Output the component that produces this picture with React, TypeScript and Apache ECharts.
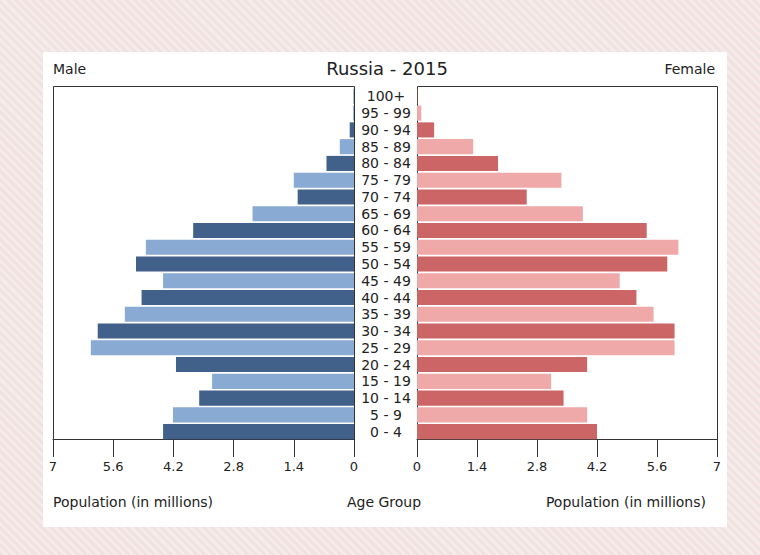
import React, { useEffect, useRef } from "react";
import * as echarts from "echarts";

// Age groups from youngest (bottom) to oldest (top)
const ageGroups = [
  "0 - 4", "5 - 9", "10 - 14", "15 - 19", "20 - 24", "25 - 29", "30 - 34",
  "35 - 39", "40 - 44", "45 - 49", "50 - 54", "55 - 59", "60 - 64", "65 - 69",
  "70 - 74", "75 - 79", "80 - 84", "85 - 89", "90 - 94", "95 - 99", "100+",
];

// Population in millions
const male = [
  4.44, 4.21, 3.6, 3.3, 4.14, 6.12, 5.96, 5.33, 4.94, 4.44, 5.07, 4.84, 3.74,
  2.36, 1.31, 1.4, 0.64, 0.33, 0.1, 0.02, 0.01,
];
const female = [
  4.2, 3.97, 3.42, 3.13, 3.97, 6.01, 6.01, 5.52, 5.12, 4.73, 5.84, 6.1, 5.36,
  3.87, 2.56, 3.37, 1.89, 1.31, 0.4, 0.1, 0.01,
];

const xTicks = [0, 1.4, 2.8, 4.2, 5.6, 7];

const MALE_DARK = "#41618a";
const MALE_LIGHT = "#88aad3";
const FEMALE_DARK = "#cc6565";
const FEMALE_LIGHT = "#f0a9a9";

const FONT = "DejaVu Sans";

function fmt(v: number) {
  return String(parseFloat(v.toFixed(1)));
}

export default function App() {
  const ref = useRef<HTMLDivElement>(null);

  useEffect(() => {
    if (!ref.current) return;
    const chart = echarts.init(ref.current, undefined, { renderer: "svg" });

    const xAxisCommon = {
      type: "value" as const,
      min: 0,
      max: xTicks[xTicks.length - 1],
      interval: xTicks[1],
      offset: -1,
      axisLine: { show: true, lineStyle: { color: "#333", width: 1 } },
      axisTick: { show: true, length: 18, lineStyle: { color: "#333", width: 1 } },
      axisLabel: {
        margin: 21,
        color: "#222",
        fontFamily: FONT,
        fontSize: 13,
        formatter: (v: number) => fmt(v),
      },
      splitLine: { show: false },
    };

    const yAxisCommon = {
      type: "category" as const,
      data: ageGroups,
      axisLine: { show: false },
      axisTick: { show: false },
      splitLine: { show: false },
    };

    // Left, top and right sides of a plot box; the x axis closes the bottom
    const frame = (x: number, w: number) => ({
      type: "polyline",
      z: 0,
      shape: {
        points: [
          [x + 0.5, 439.5],
          [x + 0.5, 86.5],
          [x + w + 0.5, 86.5],
          [x + w + 0.5, 439.5],
        ],
      },
      style: { fill: "none", stroke: "#333", lineWidth: 1 },
    });

    const label = (text: string, x: number, y: number, align: string, size = 14) => ({
      type: "text",
      x,
      y,
      style: { text, fontFamily: FONT, fontSize: size, fill: "#222", align, verticalAlign: "middle" },
    });

    chart.setOption({
      animation: false,
      backgroundColor: "transparent",
      graphic: [
        {
          type: "rect",
          z: -10,
          shape: { x: 43, y: 52, width: 684, height: 475 },
          style: { fill: "#ffffff" },
        },
        frame(53, 301),
        frame(417, 300),
        label("Male", 53, 69, "left"),
        label("Russia - 2015", 387, 68, "center", 18),
        label("Female", 715, 69, "right"),
        label("Population (in millions)", 53, 502, "left"),
        label("Age Group", 384, 502, "center"),
        label("Population (in millions)", 706, 502, "right"),
      ],
      grid: [
        { left: 53, width: 301, top: 88, height: 352 },
        { left: 417, width: 300, top: 88, height: 352 },
      ],
      xAxis: [
        { ...xAxisCommon, gridIndex: 0, inverse: true },
        { ...xAxisCommon, gridIndex: 1 },
      ],
      yAxis: [
        { ...yAxisCommon, gridIndex: 0, axisLabel: { show: false } },
        {
          ...yAxisCommon,
          gridIndex: 1,
          axisLabel: {
            show: true,
            interval: 0,
            hideOverlap: false,
            margin: 31,
            align: "center",
            color: "#222",
            fontFamily: FONT,
            fontSize: 14,
          },
        },
      ],
      series: [
        {
          name: "Male",
          type: "bar",
          xAxisIndex: 0,
          yAxisIndex: 0,
          barCategoryGap: "10%",
          data: male.map((v, i) => ({
            value: v,
            itemStyle: { color: i % 2 === 0 ? MALE_DARK : MALE_LIGHT },
          })),
        },
        {
          name: "Female",
          type: "bar",
          xAxisIndex: 1,
          yAxisIndex: 1,
          barCategoryGap: "10%",
          data: female.map((v, i) => ({
            value: v,
            itemStyle: { color: i % 2 === 0 ? FEMALE_DARK : FEMALE_LIGHT },
          })),
        },
      ],
    });

    return () => chart.dispose();
  }, []);

  return (
    <div
      ref={ref}
      style={{
        position: "fixed",
        left: 0,
        top: 0,
        width: 760,
        height: 555,
        background:
          "repeating-linear-gradient(45deg, #f1e1e1 0px, #f1e1e1 3px, #f6ebeb 3px, #f6ebeb 6px)",
      }}
    />
  );
}
